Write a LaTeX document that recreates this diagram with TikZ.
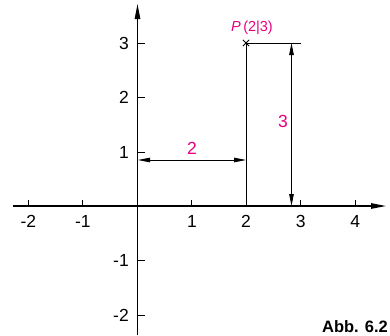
\documentclass[tikz,border=0pt]{standalone}
\usepackage{fontspec}
\setmainfont{Liberation Sans}
\usetikzlibrary{arrows.meta,shapes.misc}
\definecolor{mag}{RGB}{230,0,126}
\begin{document}
\begin{tikzpicture}[x=1pt,y=-1pt,
  axis/.style={line width=1.2pt,-{Triangle[length=15pt,width=5.5pt]}},
  tick/.style={line width=0.9pt},
  thin/.style={line width=0.8pt},
  dim/.style={line width=0.8pt,{Triangle[length=12pt,width=4.5pt]}-{Triangle[length=12pt,width=4.5pt]}},
  ticklbl/.style={inner sep=0pt,font=\fontsize{17.5}{17.5}\selectfont},
  dimlbl/.style={inner sep=0pt,text=mag,font=\fontsize{17.5}{17.5}\selectfont},
  plbl/.style={inner sep=0pt,text=mag,font=\fontsize{14.5}{14.5}\selectfont},
  caption/.style={inner sep=0pt,font=\bfseries\fontsize{16.5}{16.5}\selectfont}]
\useasboundingbox (0,0) rectangle (390,335);
% axes
\coordinate (xs) at (13,206);
\coordinate (xe) at (386,206);
\coordinate (ys) at (137.5,335);
\coordinate (ye) at (137.5,4);
\draw[axis] (xs) -- (xe);
\draw[axis] (ys) -- (ye);
% x ticks and labels
\foreach \v/\px in {-2/28.3,-1/82.8,1/191.9,2/246,3/300.7,4/355.3} {
  \coordinate (tx\v) at (\px,206);
  \coordinate (tx\v t) at (\px,200);
  \draw[tick] (tx\v) -- (tx\v t);
  \node[ticklbl,anchor=north] (lx\v) at (\px,215) {\v};
}
% y ticks and labels
\foreach \v/\py in {3/43,2/97.6,1/152.3,-1/260.7,-2/315.5} {
  \coordinate (ty\v) at (137.5,\py);
  \coordinate (ty\v t) at (144.5,\py);
  \draw[tick] (ty\v) -- (ty\v t);
  \node[ticklbl,anchor=east] (ly\v) at (129,\py) {\v};
}
% point P
\coordinate (P) at (246,43);
\coordinate (Pfoot) at (246,206);
\coordinate (E3) at (301,43);
\node[cross out,draw,thin,minimum size=5.5pt,inner sep=0pt] (Pm) at (P) {};
\node[plbl] (Plbl) at (252,28) {\textit{P}\,(2|3)};
% extension lines
\draw[thin] (P) -- (Pfoot);
\draw[thin] (P) -- (E3);
% dimension 2
\coordinate (D2a) at (138,160);
\coordinate (D2b) at (246,160);
\draw[dim] (D2a) -- (D2b);
\node[dimlbl] (L2) at (192,148.5) {2};
% dimension 3
\coordinate (D3a) at (291.5,43);
\coordinate (D3b) at (291.5,206);
\draw[dim] (D3a) -- (D3b);
\node[dimlbl] (L3) at (283,121) {3};
% caption
\node[caption,anchor=base east] (abb) at (388,332.5) {Abb. 6.2};
\end{tikzpicture}
\end{document}
